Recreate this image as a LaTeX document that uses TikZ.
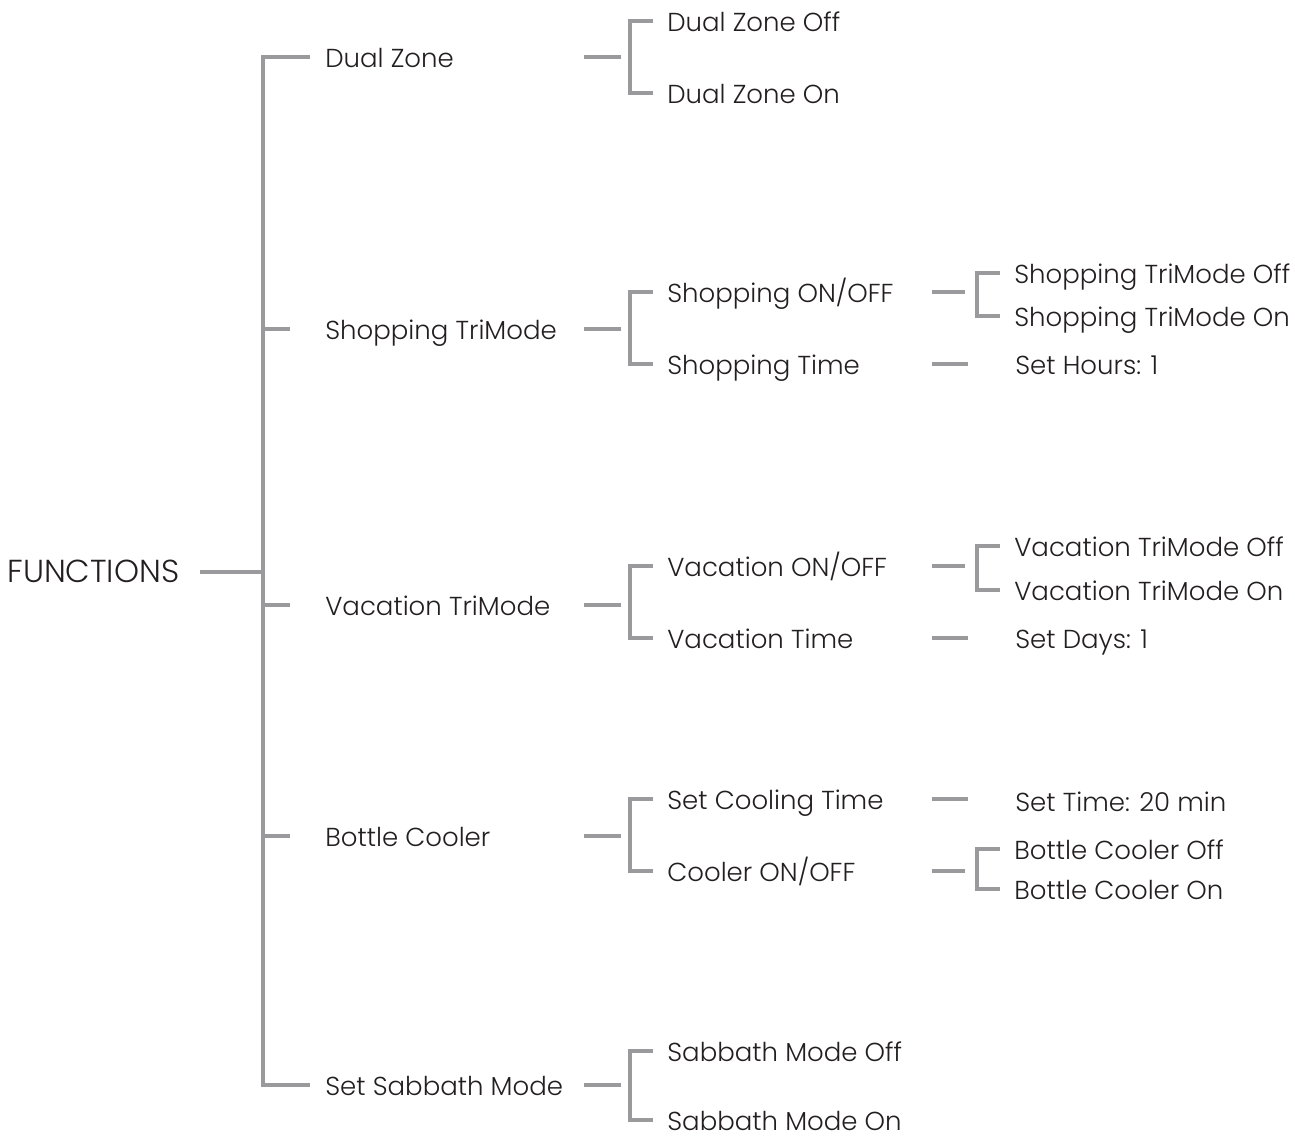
\documentclass[tikz,border=0pt]{standalone}
\usepackage{fontspec}
\setmainfont{Poppins}[UprightFont=* Light]
\usepackage{tikz}
\usetikzlibrary{calc}
\definecolor{cLine}{HTML}{9A9A9C}
\definecolor{cText}{HTML}{231F20}

\begin{document}
\begin{tikzpicture}[x=0.02cm, y=-0.02cm,
    lbl/.style={anchor=west, inner sep=0pt, text height=1.2em, text depth=0pt,
      text=cText, font=\fontsize{14.8}{16}\selectfont},
    link/.style={cLine, line width=2pt}]
  \useasboundingbox (0,0) rectangle (1295,1138);
  % column guides
  \coordinate (trunk) at (263,0);
  \coordinate (tick0) at (290,0);
  \coordinate (tend0) at (310,0);
  \coordinate (stubA) at (584,0);
  \coordinate (stubB) at (621,0);
  \coordinate (brk1) at (630,0);
  \coordinate (tick1) at (653,0);
  \coordinate (stubC) at (932,0);
  \coordinate (stubD) at (965,0);
  \coordinate (stubE) at (968,0);
  \coordinate (brk2) at (977,0);
  \coordinate (tick2) at (1000,0);

  % root and first level
  \node[lbl, font=\fontsize{18.1}{20}\selectfont] (fun) at (7,572) {FUNCTIONS};
  \node[lbl] (dz)  at (325,57)   {Dual Zone};
  \node[lbl] (shp) at (325,329)  {Shopping TriMode};
  \node[lbl] (vac) at (325,605)  {Vacation TriMode};
  \node[lbl] (btl) at (325,836)  {Bottle Cooler};
  \node[lbl] (sab) at (325,1085) {Set Sabbath Mode};

  % second level
  \node[lbl] (dzoff)  at (667,21)   {Dual Zone Off};
  \node[lbl] (dzon)   at (667,93)   {Dual Zone On};
  \node[lbl] (shpsw)  at (667,292)  {Shopping ON/OFF};
  \node[lbl] (shptm)  at (667,364)  {Shopping Time};
  \node[lbl] (vacsw)  at (667,566)  {Vacation ON/OFF};
  \node[lbl] (vactm)  at (667,638)  {Vacation Time};
  \node[lbl] (btltm)  at (667,799)  {Set Cooling Time};
  \node[lbl] (btlsw)  at (667,871)  {Cooler ON/OFF};
  \node[lbl] (saboff) at (667,1051) {Sabbath Mode Off};
  \node[lbl] (sabon)  at (667,1120) {Sabbath Mode On};

  % third level
  \node[lbl] (shpoff) at (1014,273) {Shopping TriMode Off};
  \node[lbl] (shpon)  at (1014,316) {Shopping TriMode On};
  \node[lbl] (shphr)  at (1015,364) {Set Hours: 1};
  \node[lbl] (vacoff) at (1014,546) {Vacation TriMode Off};
  \node[lbl] (vacon)  at (1014,590) {Vacation TriMode On};
  \node[lbl] (vacdy)  at (1015,638) {Set Days: 1};
  \node[lbl] (btlmin) at (1015,801) {Set Time: 20 min};
  \node[lbl] (btloff) at (1014,849) {Bottle Cooler Off};
  \node[lbl] (btlon)  at (1014,889) {Bottle Cooler On};

  % trunk
  \draw[link] ($(fun.east)+(20,0)$) -- (fun -| trunk);
  \draw[link] (dz -| tend0) -- (dz -| trunk) -- (sab -| trunk) -- (sab -| tend0);
  \foreach \n in {shp,vac,btl}
    \draw[link] (\n -| trunk) -- (\n -| tick0);

  % first to second level
  \foreach \p/\a/\b in {dz/dzoff/dzon, shp/shpsw/shptm, vac/vacsw/vactm,
                        btl/btltm/btlsw, sab/saboff/sabon} {
    \draw[link] (\p -| stubA) -- (\p -| stubB);
    \draw[link] (\a -| tick1) -- (\a -| brk1) -- (\b -| brk1) -- (\b -| tick1);
  }

  % second to third level
  \foreach \p/\a/\b in {shpsw/shpoff/shpon, vacsw/vacoff/vacon, btlsw/btloff/btlon} {
    \draw[link] (\p -| stubC) -- (\p -| stubD);
    \draw[link] (\a -| tick2) -- (\a -| brk2) -- (\b -| brk2) -- (\b -| tick2);
  }
  \foreach \p in {shptm, vactm, btltm}
    \draw[link] (\p -| stubC) -- (\p -| stubE);
\end{tikzpicture}
\end{document}
